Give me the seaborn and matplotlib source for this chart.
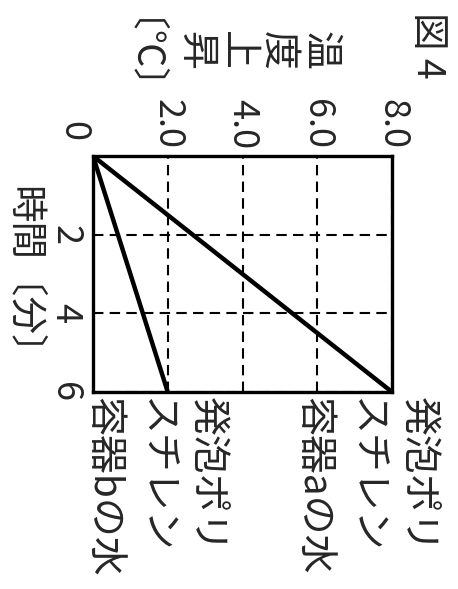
import matplotlib
matplotlib.use("Agg")
import matplotlib.pyplot as plt
import seaborn as sns
import pandas as pd

# Temperature rise of water in two foamed-polystyrene containers
time_min = [0, 6]
rise_a = [0.0, 8.0]
rise_b = [0.0, 2.0]
containers = ["a", "b"]

temp_ticks = [2.0, 4.0, 6.0, 8.0]
temp_tick_labels = ["2.0", "4.0", "6.0", "8.0"]
time_ticks = [2, 4, 6]
time_tick_labels = ["2", "4", "6"]

fig_title = "図 4"
temp_label = "温度上昇"
temp_unit = " 〔℃〕"
time_label = "時間〔分〕"
label_a = "発泡ポリ\nスチレン\n容器aの水"
label_b = "発泡ポリ\nスチレン\n容器bの水"

sns.set_theme(style="white")
plt.rcParams["font.family"] = ["Noto Sans CJK JP", "DejaVu Sans"]

W, H = 458, 589
fig = plt.figure(figsize=(W / 100, H / 100), dpi=100)
fig.patch.set_facecolor("white")
left, right, top, bottom = 93, 392, 156, 392
ax = fig.add_axes([left / W, 1 - bottom / H, (right - left) / W, (bottom - top) / H])

df = pd.DataFrame({
    "time": time_min * 2,
    "rise": rise_a + rise_b,
    "container": [containers[0]] * 2 + [containers[1]] * 2,
})

# the figure is laid out turned a quarter turn: rise runs across, time runs down
sns.lineplot(data=df, x="rise", y="time", hue="container", orient="y",
             palette=["black", "black"], linewidth=3.2, legend=False, ax=ax,
             zorder=3)

ax.set_xlim(0, 8)
ax.set_ylim(6, 0)
ax.set_facecolor("white")
ax.set_xlabel("")

ax.xaxis.tick_top()
ax.set_xticks(temp_ticks)
ax.set_xticklabels(temp_tick_labels, rotation=-90, fontsize=26)
ax.set_yticks(time_ticks)
ax.set_yticklabels(time_tick_labels, rotation=-90, fontsize=26, va="center")
ax.tick_params(axis="x", length=0, pad=5)
ax.tick_params(axis="y", length=0, pad=7)

ax.grid(True, color="black", linewidth=1.5, linestyle=(0, (5, 3)))
for s in ax.spines.values():
    s.set_color("black")
    s.set_linewidth(2.4)
    s.set_zorder(4)

# rise label written as a turned vertical column: one glyph per step
char_step = 41.7
for i, ch in enumerate(temp_label):
    fig.text((320 - i * char_step) / W, 1 - 50 / H, ch, rotation=-90,
             rotation_mode="anchor", fontsize=28, ha="center", va="center")
fig.text(148 / W, 1 - 43 / H, temp_unit, rotation=-90, rotation_mode="anchor",
         fontsize=27, ha="center", va="center")

ax.set_ylabel(time_label, rotation=-90, rotation_mode="anchor", fontsize=27,
              ha="center", va="center")
ax.yaxis.set_label_coords((23 - left) / (right - left), (bottom - 280) / (bottom - top))

ax.annotate("0", xy=(0, 0), xytext=(-20, 25), textcoords="offset pixels",
            rotation=-90, fontsize=26, ha="center", va="center",
            annotation_clip=False)

ax.annotate(label_a, xy=(rise_a[-1], time_min[-1]), xytext=(46, -5),
            textcoords="offset pixels", rotation=-90, fontsize=28,
            ha="right", va="top", multialignment="left", linespacing=1.4,
            annotation_clip=False)
ax.annotate(label_b, xy=(rise_b[-1], time_min[-1]), xytext=(60, -5),
            textcoords="offset pixels", rotation=-90, fontsize=28,
            ha="right", va="top", multialignment="left", linespacing=1.4,
            annotation_clip=False)

fig.text(428 / W, 1 - 12 / H, fig_title, rotation=-90, fontsize=27,
         ha="center", va="top")

fig.savefig("out.png", dpi=100, facecolor="white")
